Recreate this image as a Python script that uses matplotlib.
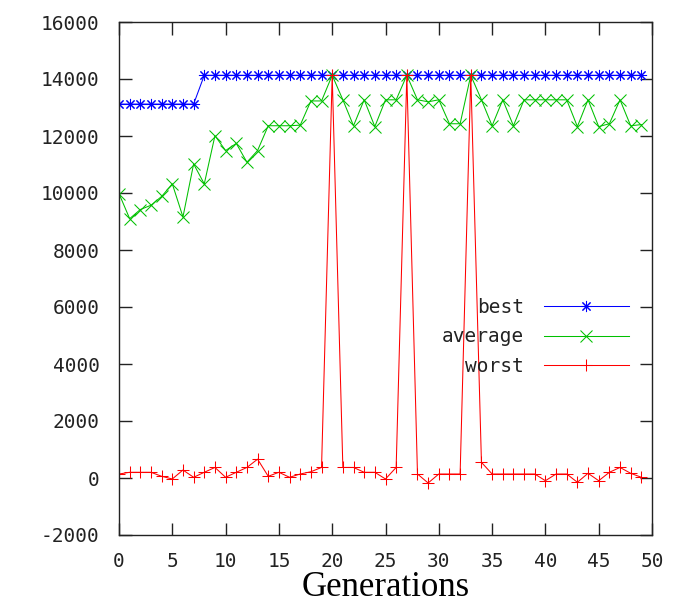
import matplotlib.pyplot as plt

generations = list(range(50))

best = [13120] * 8 + [14130] * 42

average = [9980, 9100, 9420, 9570, 9880, 10320, 9160, 11020, 10320, 12010,
           11490, 11740, 11080, 11490, 12360, 12360, 12360, 12380, 13230, 13230,
           14130, 13270, 12360, 13270, 12330, 13270, 13270, 14130, 13270, 13200,
           13270, 12430, 12430, 14130, 13270, 12360, 13270, 12360, 13270, 13270,
           13270, 13270, 13270, 12330, 13270, 12330, 12430, 13270, 12360, 12400]

worst = [140, 200, 200, 200, 60, -35, 280, 25, 200, 370,
         25, 200, 370, 660, 60, 200, 25, 140, 220, 370,
         14130, 370, 370, 200, 200, -35, 370, 14130, 140, -175,
         140, 140, 140, 14130, 550, 140, 140, 140, 140, 140,
         -95, 140, 140, -150, 165, -95, 200, 370, 165, 25]

x_ticks = list(range(0, 51, 5))
y_ticks = list(range(-2000, 16001, 2000))

mono = 'DejaVu Sans Mono'
lw = 0.75

fig = plt.figure(figsize=(6.77, 6.13), dpi=100)
ax = fig.add_axes([119 / 677, 1 - 535 / 613, 533 / 677, 513 / 613])

ax.plot(generations, best, color='#0000ff', lw=lw, marker=(8, 2, 0),
        markersize=8, markeredgewidth=lw, label='best')
ax.plot(generations, average, color='#00c000', lw=lw, marker='x',
        markersize=8, markeredgewidth=lw, label='average')
ax.plot(generations, worst, color='#ff0000', lw=lw, marker='+',
        markersize=8, markeredgewidth=lw, label='worst')

ax.set_xlim(0, 50)
ax.set_ylim(-2000, 16000)
ax.set_xticks(x_ticks)
ax.set_yticks(y_ticks)
ax.set_xticklabels([str(t) for t in x_ticks], family=mono, fontsize=14, color='#222222')
ax.set_yticklabels([str(t) for t in y_ticks], family=mono, fontsize=14, color='#222222')
ax.tick_params(direction='in', length=9, width=1, color='#222222',
               top=True, right=True)
ax.tick_params(axis='x', pad=12)
ax.tick_params(axis='y', pad=14)
for s in ax.spines.values():
    s.set_color('#222222')
    s.set_linewidth(1)

ax.set_xlabel('Generations', family='Liberation Serif', fontsize=25, labelpad=0)

leg = ax.legend(loc='center right', bbox_to_anchor=(0.957, 0.386),
                frameon=False, markerfirst=False, numpoints=1,
                handlelength=4.4, handletextpad=1.0, labelspacing=0.55,
                borderpad=0, borderaxespad=0,
                prop={'family': mono, 'size': 14})
for t in leg.get_texts():
    t.set_color('#222222')

fig.savefig('out.png', dpi=100)
